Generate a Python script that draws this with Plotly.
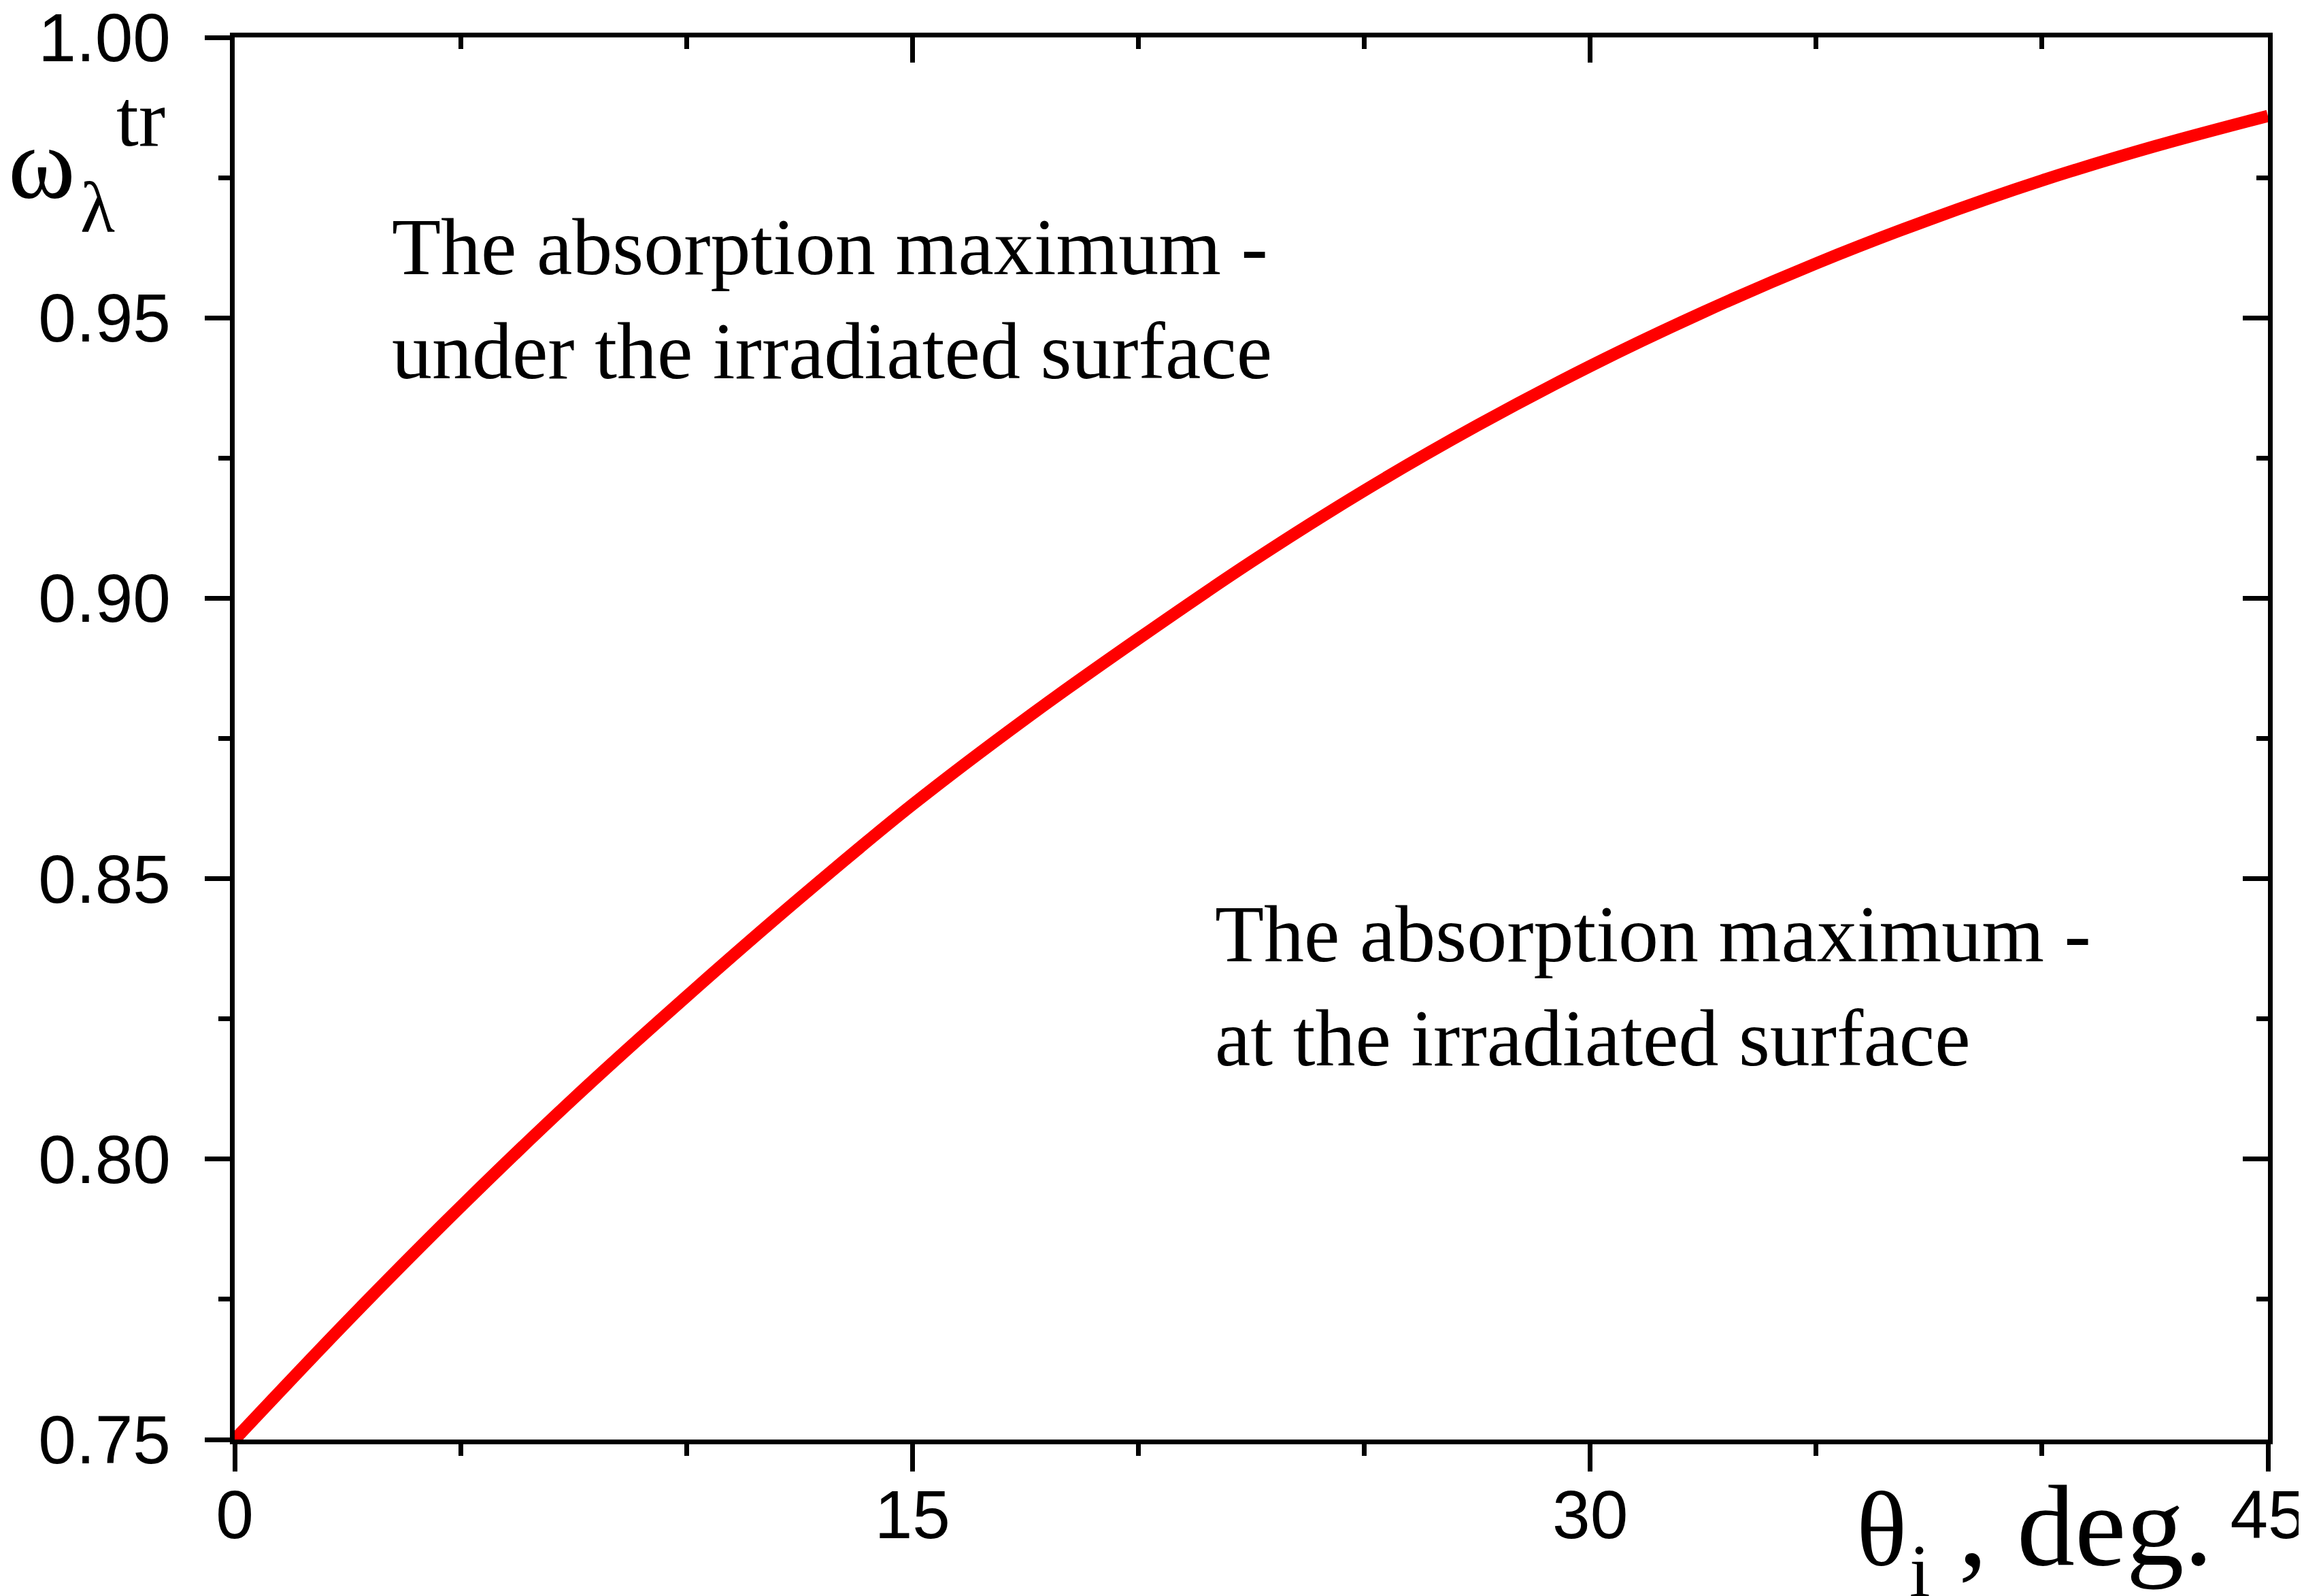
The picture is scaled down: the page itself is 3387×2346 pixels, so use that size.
import plotly.graph_objects as go

# incidence angle, deg.
theta = [0, 2.5, 5, 7.5, 10, 12.5, 15, 17.5, 20, 22.5, 25, 27.5, 30, 32.5, 35, 37.5, 40, 42.5, 45]
# transition value of omega
omega = [0.750, 0.7712, 0.7915, 0.8108, 0.8290, 0.8465, 0.8632, 0.8785, 0.8928, 0.9065,
         0.9192, 0.9308, 0.9414, 0.9510, 0.9597, 0.9675, 0.9745, 0.9806, 0.9860]

x_ticks = [0, 15, 30, 45]
y_ticks = [0.75, 0.80, 0.85, 0.90, 0.95, 1.00]

W, H = 3387, 2346
L, R, T, B = 337, 61, 47, 238
pw, ph = W - L - R, H - T - B


def px(x):
    return (x - L) / pw


def py(y):
    return (H - B - y) / ph


serif = "Liberation Serif"
sans = "Liberation Sans"
lw = 7

fig = go.Figure()
fig.add_trace(go.Scatter(x=theta, y=omega, mode="lines", line=dict(color="#ff0000", width=18),
                         line_shape="spline", showlegend=False, hoverinfo="skip"))
# same data on the mirror axes so top/right frame gets drawn
fig.add_trace(go.Scatter(x=theta, y=omega, mode="lines", xaxis="x2", yaxis="y2",
                         line=dict(color="rgba(0,0,0,0)", width=0), showlegend=False, hoverinfo="skip"))

common = dict(showline=True, linecolor="black", linewidth=lw, showgrid=False, zeroline=False,
              tickcolor="black", tickwidth=lw, automargin=False)

fig.update_layout(
    width=W, height=H,
    margin=dict(l=L, r=R, t=T, b=B, autoexpand=False),
    plot_bgcolor="white", paper_bgcolor="white",
    xaxis=dict(range=[0, 45], tickvals=x_ticks, ticks="outside", ticklen=40,
               minor=dict(dtick=5, ticks="outside", ticklen=17, tickwidth=lw, tickcolor="black"),
               tickfont=dict(family=sans, size=100, color="black"), ticklabelstandoff=-22,
               ticklabeloverflow="allow", **common),
    yaxis=dict(range=[0.75, 1.0], tickvals=y_ticks, tickformat=".2f", ticks="outside", ticklen=37,
               minor=dict(dtick=0.025, ticks="outside", ticklen=17, tickwidth=lw, tickcolor="black"),
               tickfont=dict(family=sans, size=100, color="black"), ticklabelstandoff=30,
               ticklabeloverflow="allow", **common),
    xaxis2=dict(range=[0, 45], overlaying="x", side="top", anchor="y2", tickvals=x_ticks,
                ticks="inside", ticklen=37, showticklabels=False,
                minor=dict(dtick=5, ticks="inside", ticklen=17, tickwidth=lw, tickcolor="black"), **common),
    yaxis2=dict(range=[0.75, 1.0], overlaying="y", side="right", anchor="x2", tickvals=y_ticks,
                ticks="inside", ticklen=37, showticklabels=False,
                minor=dict(dtick=0.025, ticks="inside", ticklen=17, tickwidth=lw, tickcolor="black"), **common),
)

ann = [
    # y label: omega_lambda^tr
    dict(text="ω", x=px(53), y=py(232), size=150, xa="center"),
    dict(text="λ", x=px(136), y=py(298), size=105, xa="center"),
    dict(text="tr", x=px(199), y=py(167), size=118, xa="center"),
    # x label: theta_i , deg.
    dict(text="θ", x=px(2758), y=py(2240), size=155, xa="center"),
    dict(text="i", x=px(2814), y=py(2301), size=110, xa="center"),
    dict(text=",", x=px(2892), y=py(2235), size=170, xa="center"),
    dict(text="deg.", x=px(2955), y=py(2235), size=170, xa="left"),
    # region notes
    dict(text="The absorption maximum -<br>under the irradiated surface", x=px(566), y=py(432), size=118, xa="left"),
    dict(text="The absorption maximum -<br>at the irradiated surface", x=px(1776), y=py(1442), size=118, xa="left"),
]
for a in ann:
    fig.add_annotation(text=a["text"], x=a["x"], y=a["y"], xref="paper", yref="paper",
                       xanchor=a["xa"], yanchor="middle", align="left", showarrow=False,
                       font=dict(family=serif, size=a["size"], color="black"))

fig.write_html("out.html")
